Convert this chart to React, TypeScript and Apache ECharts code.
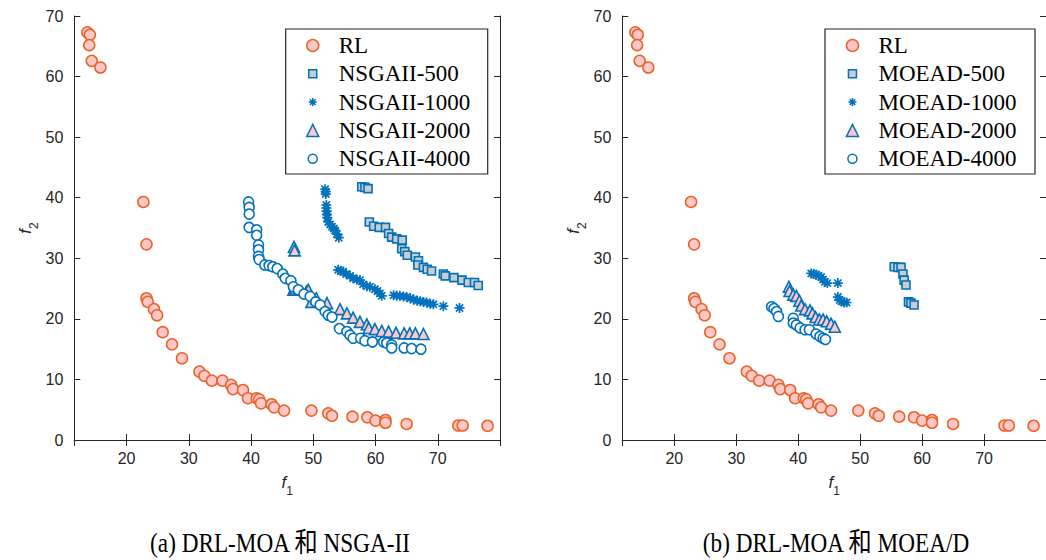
import React, { useEffect, useRef } from 'react';
import * as echarts from 'echarts';

// ---- data ----
const rlF1 = [13.7, 14.1, 14.0, 14.4, 15.8, 22.7, 23.2, 23.2, 23.4, 24.4, 24.9, 25.8, 27.3, 28.9, 31.7, 32.5, 33.7, 35.4, 36.8, 37.1, 38.7, 39.5, 40.9, 41.3, 41.6, 43.3, 43.7, 45.3, 49.7, 52.4, 53.0, 56.3, 58.7, 60.0, 61.6, 61.6, 65.0, 73.3, 74.0, 78.0];
const rlF2 = [67.3, 66.9, 65.2, 62.6, 61.5, 39.3, 32.3, 23.4, 22.8, 21.6, 20.6, 17.8, 15.8, 13.5, 11.3, 10.6, 9.8, 9.8, 9.1, 8.4, 8.25, 6.9, 6.9, 6.7, 6.05, 5.9, 5.4, 4.85, 4.85, 4.4, 4.0, 3.85, 3.75, 3.2, 3.3, 2.85, 2.65, 2.4, 2.4, 2.35];

const ns500F1 = [57.8, 58.3, 58.8, 59.0, 59.7, 60.6, 61.6, 62.1, 62.6, 63.4, 64.3, 64.2, 64.7, 65.1, 66.4, 66.9, 66.8, 67.7, 68.3, 69.0, 70.9, 71.2, 72.6, 73.9, 74.9, 75.9, 76.5];
const ns500F2 = [41.8, 41.7, 41.5, 36.0, 35.3, 35.1, 35.1, 34.1, 33.5, 33.2, 33.0, 31.6, 31.1, 30.5, 30.2, 29.6, 28.9, 28.5, 28.2, 27.9, 27.4, 27.1, 26.8, 26.4, 26.0, 26.0, 25.5];

const ns1000F1 = [51.9, 52.0, 52.0, 52.1, 52.1, 52.15, 52.2, 52.25, 52.4, 52.7, 53.0, 53.3, 53.5, 53.8, 54.1, 54.0, 54.4, 54.8, 55.3, 55.9, 56.4, 57.0, 57.5, 58.0, 58.6, 59.1, 59.9, 60.3, 60.7, 61.0, 62.9, 63.4, 63.9, 64.5, 65.0, 65.6, 66.1, 66.7, 67.2, 67.7, 68.2, 68.8, 69.3, 70.9, 73.5];
const ns1000F2 = [41.4, 41.0, 40.6, 38.8, 38.3, 37.8, 37.2, 36.7, 36.0, 35.6, 35.2, 34.9, 34.6, 34.0, 33.4, 28.1, 27.9, 27.8, 27.4, 27.1, 26.7, 26.5, 26.4, 25.7, 25.4, 25.3, 24.9, 24.6, 24.2, 23.8, 23.9, 23.8, 23.8, 23.7, 23.6, 23.4, 23.2, 23.0, 22.9, 22.8, 22.7, 22.5, 22.4, 22.1, 21.8];

const ns2000F1 = [46.9, 47.0, 46.8, 47.1, 48.9, 49.2, 49.7, 50.5, 52.2, 54.3, 55.4, 56.4, 57.5, 58.6, 58.9, 59.9, 61.0, 62.1, 63.3, 64.6, 65.5, 66.4, 67.7];
const ns2000F2 = [31.9, 31.3, 24.8, 25.0, 24.5, 24.8, 22.8, 23.4, 22.6, 21.6, 20.9, 20.2, 19.5, 19.1, 18.5, 18.3, 18.0, 17.9, 17.7, 17.6, 17.6, 17.6, 17.5];

const ns4000F1 = [39.6, 39.7, 39.7, 39.7, 40.9, 40.9, 41.2, 41.2, 41.2, 41.3, 42.2, 42.9, 43.5, 44.2, 45.1, 45.5, 46.4, 46.8, 47.6, 48.5, 49.5, 50.4, 51.1, 51.9, 52.4, 53.0, 54.2, 55.4, 55.9, 56.4, 57.6, 58.3, 59.5, 61.3, 61.8, 62.6, 62.6, 64.6, 65.8, 67.3];
const ns4000F2 = [39.3, 38.4, 37.3, 35.1, 34.7, 33.8, 32.2, 31.4, 30.3, 29.8, 28.9, 28.8, 28.6, 28.3, 27.4, 26.7, 26.3, 25.3, 24.8, 24.1, 23.7, 22.8, 22.3, 21.2, 20.6, 20.3, 18.4, 17.9, 17.3, 16.8, 16.8, 16.4, 16.2, 16.2, 16.0, 15.7, 15.2, 15.2, 15.1, 15.0];

const mo500F1 = [55.5, 56.1, 56.6, 56.9, 57.1, 57.4, 57.8, 58.2, 58.7];
const mo500F2 = [28.6, 28.5, 28.5, 27.4, 26.4, 25.6, 22.8, 22.6, 22.3];

const mo1000F1 = [42.1, 42.5, 42.9, 43.3, 43.7, 44.0, 44.3, 44.7, 46.4, 46.4, 46.7, 47.0, 47.4, 47.8];
const mo1000F2 = [27.5, 27.4, 27.3, 27.1, 26.9, 26.5, 26.1, 25.9, 25.9, 23.6, 23.1, 22.9, 22.7, 22.7];

const mo2000F1 = [38.5, 38.6, 39.2, 39.7, 40.2, 40.5, 41.1, 41.9, 42.3, 42.8, 43.4, 44.0, 44.6, 45.3, 45.9];
const mo2000F2 = [25.3, 24.6, 24.0, 23.8, 23.0, 22.2, 21.6, 21.4, 20.9, 20.3, 19.9, 19.9, 19.6, 19.2, 18.7];

const mo4000F1 = [35.7, 36.1, 36.5, 36.8, 39.2, 39.2, 39.7, 40.3, 41.1, 41.8, 42.9, 43.5, 44.0, 44.4];
const mo4000F2 = [22.0, 21.7, 21.2, 20.4, 20.1, 19.3, 19.0, 18.5, 18.2, 18.2, 17.5, 17.1, 16.8, 16.6];

const nsNames = ['RL', 'NSGAII-500', 'NSGAII-1000', 'NSGAII-2000', 'NSGAII-4000'];
const moNames = ['RL', 'MOEAD-500', 'MOEAD-1000', 'MOEAD-2000', 'MOEAD-4000'];
const yTicks = [0, 10, 20, 30, 40, 50, 60, 70];
const captions = ['(a) DRL-MOA 和 NSGA-II', '(b) DRL-MOA 和 MOEA/D'];

// ---- styles ----
const BLUE = '#0072BD';
const ORANGE = '#EA6228';
const PINK = '#FFC8C8';
const GRAY = '#CCCCCC';
const AXIS = '#262626';
const SANS = '"Liberation Sans", Arial, sans-serif';
const SERIF = '"Liberation Serif", "Noto Sans CJK SC", serif';
const ASTERISK = 'path://M0,-5L0,5M-5,0L5,0M-3.6,-3.6L3.6,3.6M-3.6,3.6L3.6,-3.6';

const zip = (a: number[], b: number[]) => a.map((v, i) => [v, b[i]]);

const styles = [
  { symbol: 'circle', symbolSize: 11, itemStyle: { color: PINK, borderColor: ORANGE, borderWidth: 1.5, opacity: 1 }, icon: 'circle' },
  { symbol: 'rect', symbolSize: 8, itemStyle: { color: GRAY, borderColor: BLUE, borderWidth: 1.6, opacity: 1 }, icon: 'path://M0,0M12,12M2,2L10,2L10,10L2,10Z' },
  { symbol: ASTERISK, symbolSize: 10, itemStyle: { color: BLUE, borderColor: BLUE, borderWidth: 1.7, opacity: 1 }, icon: 'path://M0,0M12,12M6,2L6,10M2,6L10,6M3.2,3.2L8.8,8.8M3.2,8.8L8.8,3.2' },
  { symbol: 'triangle', symbolSize: 11, itemStyle: { color: PINK, borderColor: BLUE, borderWidth: 1.6, opacity: 1 }, icon: 'triangle' },
  { symbol: 'circle', symbolSize: 10, itemStyle: { color: '#ffffff', borderColor: BLUE, borderWidth: 1.6, opacity: 1 }, icon: 'path://M0,0M12,12M1.5,6A4.5,4.5,0,1,0,10.5,6A4.5,4.5,0,1,0,1.5,6Z' },
];

const nameRich = {
  i: { fontFamily: SANS, fontStyle: 'italic', fontSize: 17, color: AXIS, padding: [0, 0, 6, 0], verticalAlign: 'top' },
  s: { fontFamily: SANS, fontSize: 12, color: AXIS, verticalAlign: 'bottom' },
};

function makeAxes(g: number) {
  const xBase = {
    type: 'value', gridIndex: g, min: 11.6, max: 80, minInterval: 10, maxInterval: 10,
    axisLine: { show: true, lineStyle: { color: AXIS, width: 1 } },
    axisTick: { show: true, inside: true, length: 6, lineStyle: { color: AXIS } },
    splitLine: { show: false },
  };
  const yBase = {
    type: 'value', gridIndex: g, min: 0, max: 70, interval: 10,
    axisLine: { show: true, lineStyle: { color: AXIS, width: 1 } },
    axisTick: { show: true, inside: true, length: 6, lineStyle: { color: AXIS } },
    splitLine: { show: false },
  };
  const x = [
    {
      ...xBase, position: 'bottom',
      axisLabel: { show: true, showMinLabel: false, showMaxLabel: false, margin: 10, fontFamily: SANS, fontSize: 16, color: AXIS },
      name: '{i|f}{s|1}', nameLocation: 'middle', nameGap: 34, nameTextStyle: { rich: nameRich },
    },
    { ...xBase, position: 'top', axisLabel: { show: false } },
  ];
  const y = [
    {
      ...yBase, position: 'left',
      axisLabel: { show: true, margin: 11, fontFamily: SANS, fontSize: 16, color: AXIS, formatter: (v: number) => (yTicks.includes(v) ? String(v) : '') },
      name: '{i|f}{s|2}', nameLocation: 'middle', nameGap: 34, nameTextStyle: { rich: nameRich },
    },
    { ...yBase, position: 'right', axisLabel: { show: false } },
  ];
  return { x, y };
}

function makeSeries(g: number, names: string[], sets: number[][][]) {
  return sets.map((data, k) => ({
    type: 'scatter',
    name: names[k],
    xAxisIndex: g * 2,
    yAxisIndex: g * 2,
    data,
    symbol: styles[k].symbol,
    symbolSize: styles[k].symbolSize,
    itemStyle: styles[k].itemStyle,
    z: 2 + k,
    silent: true,
  }));
}

function makeLegend(left: number, names: string[]) {
  return {
    orient: 'vertical', left, top: 34, padding: 0, itemGap: 5.3, itemWidth: 12, itemHeight: 12,
    selectedMode: false,
    itemStyle: { borderWidth: 1.5, opacity: 1 },
    textStyle: { fontFamily: SERIF, fontSize: 23, lineHeight: 23, color: '#000', padding: [0, 0, 0, 15] },
    data: names.map((n, k) => ({ name: n, icon: styles[k].icon })),
  };
}

export default function App() {
  const ref = useRef<HTMLDivElement>(null);
  useEffect(() => {
    if (!ref.current) return;
    const chart = echarts.init(ref.current, null, { renderer: 'svg' });
    const a0 = makeAxes(0);
    const a1 = makeAxes(1);
    const nsSets = [zip(rlF1, rlF2), zip(ns500F1, ns500F2), zip(ns1000F1, ns1000F2), zip(ns2000F1, ns2000F2), zip(ns4000F1, ns4000F2)];
    const moSets = [zip(rlF1, rlF2), zip(mo500F1, mo500F2), zip(mo1000F1, mo1000F2), zip(mo2000F1, mo2000F2), zip(mo4000F1, mo4000F2)];
    const option: any = {
      animation: false,
      backgroundColor: '#ffffff',
      grid: [
        { left: 74.3, top: 16, width: 425.7, height: 424 },
        { left: 622.3, top: 16, width: 424.9, height: 424 },
      ],
      xAxis: [...a0.x, ...a1.x],
      yAxis: [...a0.y, ...a1.y],
      legend: [makeLegend(306, nsNames), makeLegend(845.7, moNames)],
      series: [...makeSeries(0, nsNames, nsSets), ...makeSeries(1, moNames, moSets)],
      graphic: [
        { type: 'rect', shape: { x: 285.7, y: 29, width: 202, height: 145 }, style: { fill: 'none', stroke: AXIS, lineWidth: 1.2 }, z: 100 },
        { type: 'rect', shape: { x: 825, y: 29, width: 210, height: 145 }, style: { fill: 'none', stroke: AXIS, lineWidth: 1.2 }, z: 100 },
        { type: 'text', x: 280, y: 543, scaleX: 0.86, style: { text: captions[0], fontFamily: SERIF, fontSize: 27, fill: '#000', align: 'center', verticalAlign: 'middle' } },
        { type: 'text', x: 836, y: 543, scaleX: 0.86, style: { text: captions[1], fontFamily: SERIF, fontSize: 27, fill: '#000', align: 'center', verticalAlign: 'middle' } },
      ],
    };
    chart.setOption(option);
    return () => chart.dispose();
  }, []);
  return <div ref={ref} style={{ position: 'absolute', left: 0, top: 0, width: 1046, height: 560, background: '#fff' }} />;
}
